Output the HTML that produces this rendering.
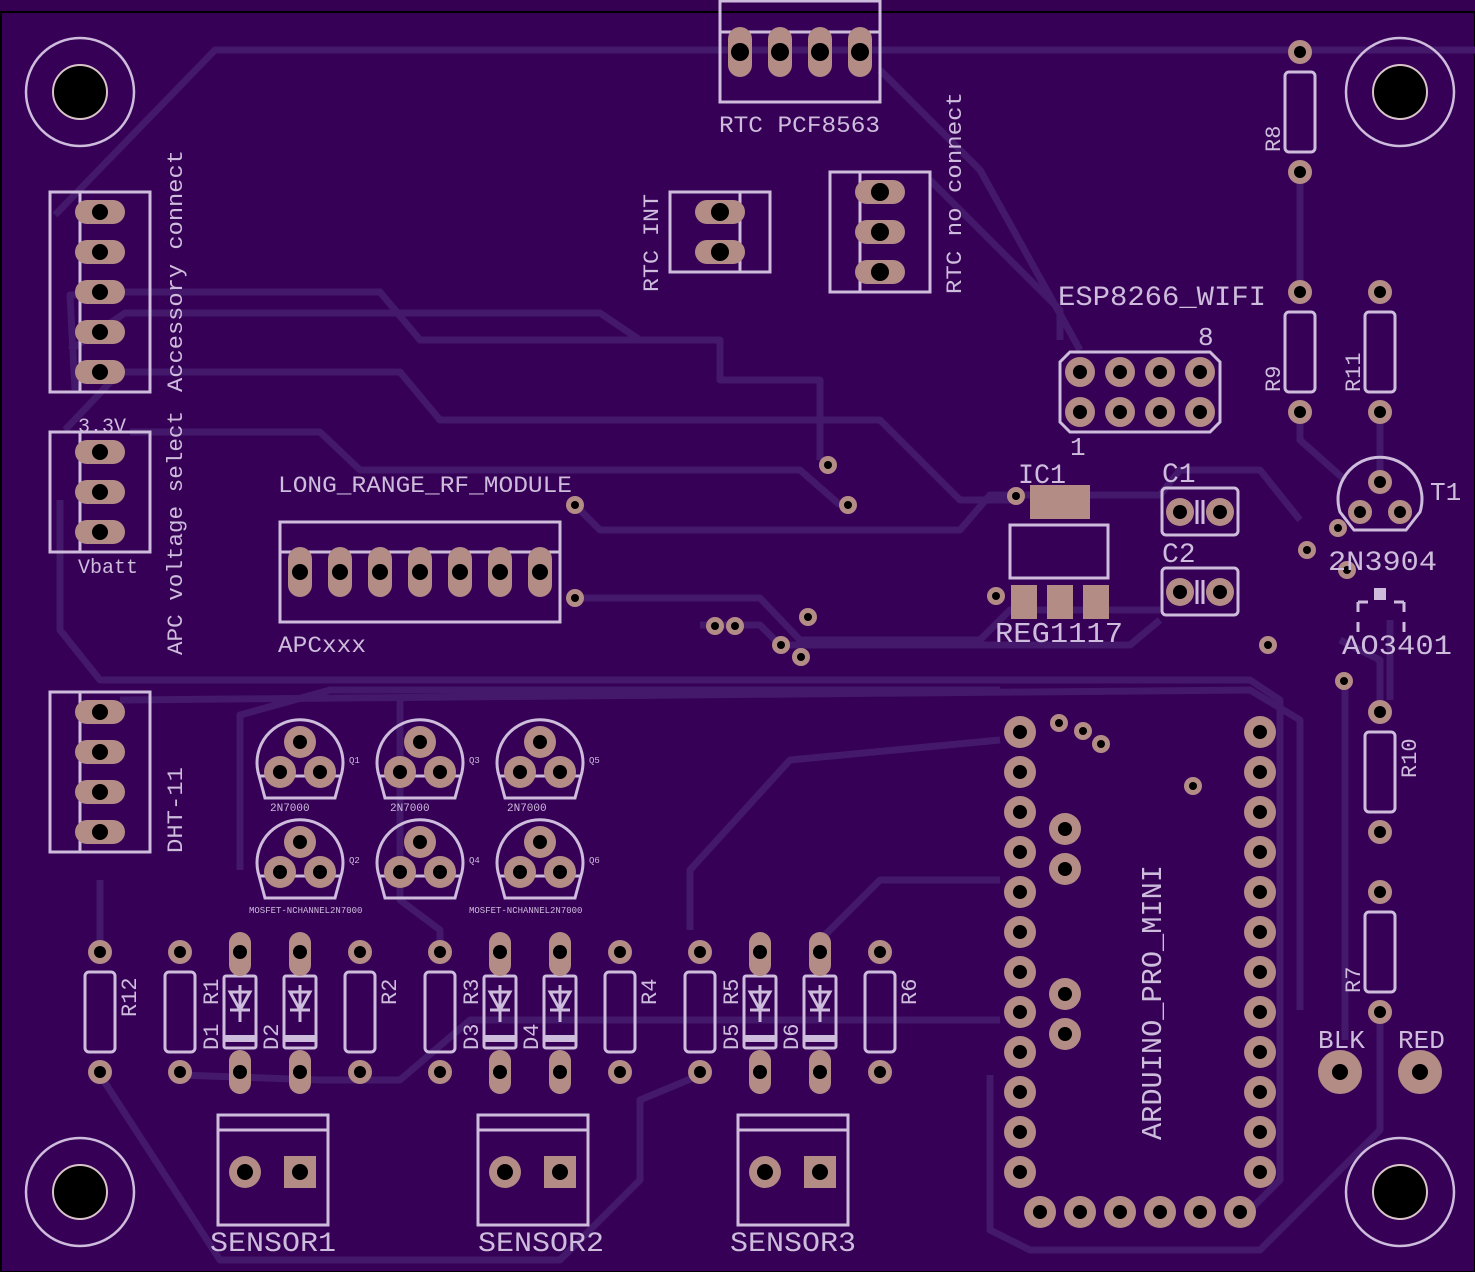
<!DOCTYPE html>
<html><head><meta charset="utf-8"><style>
html,body{margin:0;padding:0;background:#350052}
svg{display:block}
text{font-family:"Liberation Mono",monospace;fill:#cdbcdc}
</style></head><body>
<svg width="1475" height="1272" viewBox="0 0 1475 1272" xmlns="http://www.w3.org/2000/svg">
<rect width="1475" height="1272" fill="#350052"/>
<rect x="1" y="12" width="1474" height="1260" fill="#350055" stroke="#000" stroke-width="2"/>
<g fill="none" stroke="#44186a" stroke-width="7" stroke-linejoin="round">
<polyline points="55,215 215,50 1475,50"/>
<polyline points="75,390 70,295 125,292 380,292 420,340 720,340 720,380 820,380 820,460"/>
<polyline points="70,350 125,313 600,313 640,340"/>
<polyline points="65,430 120,372 400,372 440,420 880,420 960,500 1015,500"/>
<polyline points="60,500 60,630 100,680 1250,680 1280,700 1280,1180 1250,1210"/>
<polyline points="130,432 320,432 360,470 800,470 840,505"/>
<polyline points="880,70 980,170 1080,350"/>
<polyline points="930,180 1060,310 1060,340"/>
<polyline points="575,505 600,530 960,530 990,495 1160,495 1180,470 1260,470 1300,520"/>
<polyline points="575,598 760,598 800,640 980,640 1010,610 1160,610"/>
<polyline points="700,625 760,625 780,645 1130,645 1160,620"/>
<polyline points="120,700 1250,690 1300,720 1300,1010"/>
<polyline points="240,870 240,715 330,690 1000,690"/>
<polyline points="690,930 690,870 790,760 1000,740"/>
<polyline points="440,945 440,930 400,900 400,700"/>
<polyline points="820,940 880,880 1000,880"/>
<polyline points="100,880 100,945"/>
<polyline points="100,1075 220,1260 560,1260 640,1180 640,1100 700,1075"/>
<polyline points="180,1075 320,1080 400,1080 470,1020 1000,1020"/>
<polyline points="990,1075 990,1230 1030,1250 1260,1250 1380,1130 1380,1015"/>
<polyline points="1300,170 1300,290"/>
<polyline points="1380,410 1380,475"/>
<polyline points="1345,680 1345,1040"/>
<polyline points="1300,410 1300,440 1345,480"/>
<polyline points="1390,620 1390,700"/>
<polyline points="1340,640 1380,660 1380,710"/>
</g>
<g stroke="#cdbcdc" stroke-width="2.5" fill="none">
<circle cx="80" cy="92" r="54"/><circle cx="1400" cy="92" r="54"/>
<circle cx="80" cy="1192" r="54"/><circle cx="1400" cy="1192" r="54"/>
</g>
<g fill="#000" stroke="#d8c4c8" stroke-width="2">
<circle cx="80" cy="92" r="27"/><circle cx="1400" cy="92" r="27"/>
<circle cx="80" cy="1192" r="27"/><circle cx="1400" cy="1192" r="27"/>
</g>
<g stroke="#cdbcdc" stroke-width="3" fill="none">
<rect x="720" y="1" width="160" height="101"/><line x1="720" y1="32" x2="880" y2="32"/>
<rect x="670" y="192" width="100" height="80"/><line x1="740" y1="192" x2="740" y2="272"/>
<rect x="830" y="172" width="100" height="120"/><line x1="860" y1="172" x2="860" y2="292"/>
<rect x="50" y="192" width="100" height="200"/><line x1="80" y1="192" x2="80" y2="392"/>
<rect x="50" y="432" width="100" height="120"/><line x1="80" y1="432" x2="80" y2="552"/>
<rect x="50" y="692" width="100" height="160"/><line x1="80" y1="692" x2="80" y2="852"/>
<rect x="280" y="522" width="280" height="100"/><line x1="280" y1="552" x2="560" y2="552"/>
<polygon points="1070,352 1210,352 1220,362 1220,422 1210,432 1070,432 1060,422 1060,362"/>
<rect x="1010" y="525" width="98" height="53"/>
<rect x="1162" y="488" width="76" height="47" rx="4"/>
<rect x="1162" y="568" width="76" height="47" rx="4"/>
<line x1="1197" y1="500" x2="1197" y2="524"/><line x1="1203" y1="500" x2="1203" y2="524"/>
<line x1="1197" y1="580" x2="1197" y2="604"/><line x1="1203" y1="580" x2="1203" y2="604"/>
<rect x="218" y="1115" width="110" height="110"/><line x1="218" y1="1130" x2="328" y2="1130"/>
<rect x="478" y="1115" width="110" height="110"/><line x1="478" y1="1130" x2="588" y2="1130"/>
<rect x="738" y="1115" width="110" height="110"/><line x1="738" y1="1130" x2="848" y2="1130"/>
<path d="M1340,512 A42,42 0 1 1 1420,512 L1406,530 L1354,530 Z"/>
<path d="M1358,602 V612 M1358,602 H1368 M1404,602 V612 M1404,602 H1394 M1358,622 V632 M1404,622 V632"/>
<path d="M265,798 L258,772 A43,43 0 1 1 342,772 L335,798 Z"/>
<path d="M385,798 L378,772 A43,43 0 1 1 462,772 L455,798 Z"/>
<path d="M505,798 L498,772 A43,43 0 1 1 582,772 L575,798 Z"/>
<path d="M265,898 L258,872 A43,43 0 1 1 342,872 L335,898 Z"/>
<path d="M385,898 L378,872 A43,43 0 1 1 462,872 L455,898 Z"/>
<path d="M505,898 L498,872 A43,43 0 1 1 582,872 L575,898 Z"/>
<line x1="258" y1="776" x2="342" y2="776"/><line x1="378" y1="776" x2="462" y2="776"/><line x1="498" y1="776" x2="582" y2="776"/>
<line x1="258" y1="876" x2="342" y2="876"/><line x1="378" y1="876" x2="462" y2="876"/><line x1="498" y1="876" x2="582" y2="876"/>
<rect x="1285" y="72" width="30" height="80" rx="4"/>
<rect x="1285" y="312" width="30" height="80" rx="4"/>
<rect x="1365" y="312" width="30" height="80" rx="4"/>
<rect x="1365" y="732" width="30" height="80" rx="4"/>
<rect x="1365" y="912" width="30" height="80" rx="4"/>
<rect x="85" y="972" width="30" height="80" rx="4"/>
<rect x="165" y="972" width="30" height="80" rx="4"/>
<rect x="345" y="972" width="30" height="80" rx="4"/>
<rect x="425" y="972" width="30" height="80" rx="4"/>
<rect x="605" y="972" width="30" height="80" rx="4"/>
<rect x="685" y="972" width="30" height="80" rx="4"/>
<rect x="865" y="972" width="30" height="80" rx="4"/>
<g id="d"><rect x="224" y="976" width="32" height="72" rx="2"/><path d="M230,992 H250 L240,1010 Z M230,1010 H250 M240,985 V1022"/></g>
<use href="#d" x="60"/><use href="#d" x="260"/><use href="#d" x="320"/><use href="#d" x="520"/><use href="#d" x="580"/>
</g>
<g fill="#cdbcdc">
<rect x="224" y="1035" width="32" height="7"/><rect x="284" y="1035" width="32" height="7"/><rect x="484" y="1035" width="32" height="7"/>
<rect x="544" y="1035" width="32" height="7"/><rect x="744" y="1035" width="32" height="7"/><rect x="804" y="1035" width="32" height="7"/>
<rect x="1374" y="588" width="12" height="12"/>
</g>
<g fill="#b48c86">
<rect x="728" y="27" width="24" height="50" rx="12"/><rect x="768" y="27" width="24" height="50" rx="12"/><rect x="808" y="27" width="24" height="50" rx="12"/><rect x="848" y="27" width="24" height="50" rx="12"/>
<rect x="695" y="200" width="50" height="24" rx="12"/><rect x="695" y="240" width="50" height="24" rx="12"/>
<rect x="855" y="180" width="50" height="24" rx="12"/><rect x="855" y="220" width="50" height="24" rx="12"/><rect x="855" y="260" width="50" height="24" rx="12"/>
<rect x="75" y="200" width="50" height="24" rx="12"/><rect x="75" y="240" width="50" height="24" rx="12"/><rect x="75" y="280" width="50" height="24" rx="12"/><rect x="75" y="320" width="50" height="24" rx="12"/><rect x="75" y="360" width="50" height="24" rx="12"/>
<rect x="75" y="440" width="50" height="24" rx="12"/><rect x="75" y="480" width="50" height="24" rx="12"/><rect x="75" y="520" width="50" height="24" rx="12"/>
<rect x="75" y="700" width="50" height="24" rx="12"/><rect x="75" y="740" width="50" height="24" rx="12"/><rect x="75" y="780" width="50" height="24" rx="12"/><rect x="75" y="820" width="50" height="24" rx="12"/>
<rect x="288" y="547" width="24" height="50" rx="12"/><rect x="328" y="547" width="24" height="50" rx="12"/><rect x="368" y="547" width="24" height="50" rx="12"/><rect x="408" y="547" width="24" height="50" rx="12"/><rect x="448" y="547" width="24" height="50" rx="12"/><rect x="488" y="547" width="24" height="50" rx="12"/><rect x="528" y="547" width="24" height="50" rx="12"/>
<rect x="229" y="932" width="22" height="44" rx="11"/><rect x="229" y="1050" width="22" height="44" rx="11"/>
<rect x="289" y="932" width="22" height="44" rx="11"/><rect x="289" y="1050" width="22" height="44" rx="11"/>
<rect x="489" y="932" width="22" height="44" rx="11"/><rect x="489" y="1050" width="22" height="44" rx="11"/>
<rect x="549" y="932" width="22" height="44" rx="11"/><rect x="549" y="1050" width="22" height="44" rx="11"/>
<rect x="749" y="932" width="22" height="44" rx="11"/><rect x="749" y="1050" width="22" height="44" rx="11"/>
<rect x="809" y="932" width="22" height="44" rx="11"/><rect x="809" y="1050" width="22" height="44" rx="11"/>
<rect x="1030" y="485" width="60" height="34"/>
<rect x="1011" y="585" width="26" height="34"/><rect x="1047" y="585" width="26" height="34"/><rect x="1083" y="585" width="26" height="34"/>
<rect x="284" y="1156" width="32" height="32"/><rect x="544" y="1156" width="32" height="32"/><rect x="804" y="1156" width="32" height="32"/>
<circle cx="245" cy="1172" r="16"/><circle cx="505" cy="1172" r="16"/><circle cx="765" cy="1172" r="16"/>
<circle cx="300" cy="742" r="16"/><circle cx="280" cy="772" r="16"/><circle cx="320" cy="772" r="16"/>
<circle cx="420" cy="742" r="16"/><circle cx="400" cy="772" r="16"/><circle cx="440" cy="772" r="16"/>
<circle cx="540" cy="742" r="16"/><circle cx="520" cy="772" r="16"/><circle cx="560" cy="772" r="16"/>
<circle cx="300" cy="842" r="16"/><circle cx="280" cy="872" r="16"/><circle cx="320" cy="872" r="16"/>
<circle cx="420" cy="842" r="16"/><circle cx="400" cy="872" r="16"/><circle cx="440" cy="872" r="16"/>
<circle cx="540" cy="842" r="16"/><circle cx="520" cy="872" r="16"/><circle cx="560" cy="872" r="16"/>
<circle cx="1080" cy="372" r="15"/><circle cx="1120" cy="372" r="15"/><circle cx="1160" cy="372" r="15"/><circle cx="1200" cy="372" r="15"/>
<circle cx="1080" cy="412" r="15"/><circle cx="1120" cy="412" r="15"/><circle cx="1160" cy="412" r="15"/><circle cx="1200" cy="412" r="15"/>
<circle cx="1180" cy="512" r="14"/><circle cx="1220" cy="512" r="14"/><circle cx="1180" cy="592" r="14"/><circle cx="1220" cy="592" r="14"/>
<circle cx="1380" cy="482" r="12"/><circle cx="1360" cy="512" r="12"/><circle cx="1400" cy="512" r="12"/>
<circle cx="1340" cy="1072" r="22"/><circle cx="1420" cy="1072" r="22"/>
<g id="col"><circle cx="1020" cy="732" r="16"/><circle cx="1020" cy="772" r="16"/><circle cx="1020" cy="812" r="16"/><circle cx="1020" cy="852" r="16"/><circle cx="1020" cy="892" r="16"/><circle cx="1020" cy="932" r="16"/><circle cx="1020" cy="972" r="16"/><circle cx="1020" cy="1012" r="16"/><circle cx="1020" cy="1052" r="16"/><circle cx="1020" cy="1092" r="16"/><circle cx="1020" cy="1132" r="16"/><circle cx="1020" cy="1172" r="16"/></g>
<use href="#col" x="240"/>
<circle cx="1040" cy="1212" r="16"/><circle cx="1080" cy="1212" r="16"/><circle cx="1120" cy="1212" r="16"/><circle cx="1160" cy="1212" r="16"/><circle cx="1200" cy="1212" r="16"/><circle cx="1240" cy="1212" r="16"/>
<circle cx="1065" cy="829" r="16"/><circle cx="1065" cy="869" r="16"/><circle cx="1065" cy="994" r="16"/><circle cx="1065" cy="1034" r="16"/>
<g id="rp"><circle cx="100" cy="952" r="12"/><circle cx="100" cy="1072" r="12"/></g>
<use href="#rp" x="80"/><use href="#rp" x="260"/><use href="#rp" x="340"/><use href="#rp" x="520"/><use href="#rp" x="600"/><use href="#rp" x="780"/>
<use href="#rp" x="1200" y="-900"/><use href="#rp" x="1200" y="-660"/><use href="#rp" x="1280" y="-660"/><use href="#rp" x="1280" y="-240"/><use href="#rp" x="1280" y="-60"/>
<circle cx="575" cy="505" r="9"/><circle cx="575" cy="598" r="9"/><circle cx="828" cy="465" r="9"/><circle cx="848" cy="505" r="9"/>
<circle cx="715" cy="626" r="9"/><circle cx="735" cy="626" r="9"/><circle cx="808" cy="617" r="9"/><circle cx="781" cy="645" r="9"/><circle cx="801" cy="657" r="9"/>
<circle cx="1016" cy="496" r="9"/><circle cx="996" cy="596" r="9"/><circle cx="1268" cy="645" r="9"/><circle cx="1307" cy="550" r="9"/><circle cx="1338" cy="528" r="9"/><circle cx="1347" cy="570" r="9"/><circle cx="1344" cy="681" r="9"/>
<circle cx="1059" cy="723" r="9"/><circle cx="1083" cy="731" r="9"/><circle cx="1101" cy="744" r="9"/><circle cx="1193" cy="786" r="9"/>
</g>
<g fill="#000">
<circle cx="740" cy="52" r="9"/><circle cx="780" cy="52" r="9"/><circle cx="820" cy="52" r="9"/><circle cx="860" cy="52" r="9"/>
<circle cx="720" cy="212" r="9"/><circle cx="720" cy="252" r="9"/><circle cx="880" cy="192" r="9"/><circle cx="880" cy="232" r="9"/><circle cx="880" cy="272" r="9"/>
<circle cx="100" cy="212" r="8"/><circle cx="100" cy="252" r="8"/><circle cx="100" cy="292" r="8"/><circle cx="100" cy="332" r="8"/><circle cx="100" cy="372" r="8"/>
<circle cx="100" cy="452" r="8"/><circle cx="100" cy="492" r="8"/><circle cx="100" cy="532" r="8"/>
<circle cx="100" cy="712" r="8"/><circle cx="100" cy="752" r="8"/><circle cx="100" cy="792" r="8"/><circle cx="100" cy="832" r="8"/>
<circle cx="300" cy="572" r="8"/><circle cx="340" cy="572" r="8"/><circle cx="380" cy="572" r="8"/><circle cx="420" cy="572" r="8"/><circle cx="460" cy="572" r="8"/><circle cx="500" cy="572" r="8"/><circle cx="540" cy="572" r="8"/>
<circle cx="240" cy="952" r="7"/><circle cx="240" cy="1072" r="7"/><circle cx="300" cy="952" r="7"/><circle cx="300" cy="1072" r="7"/>
<circle cx="500" cy="952" r="7"/><circle cx="500" cy="1072" r="7"/><circle cx="560" cy="952" r="7"/><circle cx="560" cy="1072" r="7"/>
<circle cx="760" cy="952" r="7"/><circle cx="760" cy="1072" r="7"/><circle cx="820" cy="952" r="7"/><circle cx="820" cy="1072" r="7"/>
<circle cx="245" cy="1172" r="8"/><circle cx="300" cy="1172" r="8"/><circle cx="505" cy="1172" r="8"/><circle cx="560" cy="1172" r="8"/><circle cx="765" cy="1172" r="8"/><circle cx="820" cy="1172" r="8"/>
<circle cx="300" cy="742" r="7"/><circle cx="280" cy="772" r="7"/><circle cx="320" cy="772" r="7"/>
<circle cx="420" cy="742" r="7"/><circle cx="400" cy="772" r="7"/><circle cx="440" cy="772" r="7"/>
<circle cx="540" cy="742" r="7"/><circle cx="520" cy="772" r="7"/><circle cx="560" cy="772" r="7"/>
<circle cx="300" cy="842" r="7"/><circle cx="280" cy="872" r="7"/><circle cx="320" cy="872" r="7"/>
<circle cx="420" cy="842" r="7"/><circle cx="400" cy="872" r="7"/><circle cx="440" cy="872" r="7"/>
<circle cx="540" cy="842" r="7"/><circle cx="520" cy="872" r="7"/><circle cx="560" cy="872" r="7"/>
<circle cx="1080" cy="372" r="7"/><circle cx="1120" cy="372" r="7"/><circle cx="1160" cy="372" r="7"/><circle cx="1200" cy="372" r="7"/>
<circle cx="1080" cy="412" r="7"/><circle cx="1120" cy="412" r="7"/><circle cx="1160" cy="412" r="7"/><circle cx="1200" cy="412" r="7"/>
<circle cx="1180" cy="512" r="7"/><circle cx="1220" cy="512" r="7"/><circle cx="1180" cy="592" r="7"/><circle cx="1220" cy="592" r="7"/>
<circle cx="1380" cy="482" r="6"/><circle cx="1360" cy="512" r="6"/><circle cx="1400" cy="512" r="6"/>
<circle cx="1340" cy="1072" r="8"/><circle cx="1420" cy="1072" r="8"/>
<g id="colh"><circle cx="1020" cy="732" r="7"/><circle cx="1020" cy="772" r="7"/><circle cx="1020" cy="812" r="7"/><circle cx="1020" cy="852" r="7"/><circle cx="1020" cy="892" r="7"/><circle cx="1020" cy="932" r="7"/><circle cx="1020" cy="972" r="7"/><circle cx="1020" cy="1012" r="7"/><circle cx="1020" cy="1052" r="7"/><circle cx="1020" cy="1092" r="7"/><circle cx="1020" cy="1132" r="7"/><circle cx="1020" cy="1172" r="7"/></g>
<use href="#colh" x="240"/>
<circle cx="1040" cy="1212" r="7"/><circle cx="1080" cy="1212" r="7"/><circle cx="1120" cy="1212" r="7"/><circle cx="1160" cy="1212" r="7"/><circle cx="1200" cy="1212" r="7"/><circle cx="1240" cy="1212" r="7"/>
<circle cx="1065" cy="829" r="7"/><circle cx="1065" cy="869" r="7"/><circle cx="1065" cy="994" r="7"/><circle cx="1065" cy="1034" r="7"/>
<g id="rh"><circle cx="100" cy="952" r="6"/><circle cx="100" cy="1072" r="6"/></g>
<use href="#rh" x="80"/><use href="#rh" x="260"/><use href="#rh" x="340"/><use href="#rh" x="520"/><use href="#rh" x="600"/><use href="#rh" x="780"/>
<use href="#rh" x="1200" y="-900"/><use href="#rh" x="1200" y="-660"/><use href="#rh" x="1280" y="-660"/><use href="#rh" x="1280" y="-240"/><use href="#rh" x="1280" y="-60"/>
<circle cx="575" cy="505" r="4"/><circle cx="575" cy="598" r="4"/><circle cx="828" cy="465" r="4"/><circle cx="848" cy="505" r="4"/>
<circle cx="715" cy="626" r="4"/><circle cx="735" cy="626" r="4"/><circle cx="808" cy="617" r="4"/><circle cx="781" cy="645" r="4"/><circle cx="801" cy="657" r="4"/>
<circle cx="1016" cy="496" r="4"/><circle cx="996" cy="596" r="4"/><circle cx="1268" cy="645" r="4"/><circle cx="1307" cy="550" r="4"/><circle cx="1338" cy="528" r="4"/><circle cx="1347" cy="570" r="4"/><circle cx="1344" cy="681" r="4"/>
<circle cx="1059" cy="723" r="4"/><circle cx="1083" cy="731" r="4"/><circle cx="1101" cy="744" r="4"/><circle cx="1193" cy="786" r="4"/>
</g>
<g font-size="23">
<text x="719" y="132" textLength="161" lengthAdjust="spacingAndGlyphs">RTC PCF8563</text>
<text x="1058" y="305" font-size="28" textLength="208" lengthAdjust="spacingAndGlyphs">ESP8266_WIFI</text>
<text x="1198" y="345" font-size="26">8</text>
<text x="1070" y="455" font-size="26">1</text>
<text x="278" y="492" textLength="294" lengthAdjust="spacingAndGlyphs">LONG_RANGE_RF_MODULE</text>
<text x="278" y="652" textLength="88" lengthAdjust="spacingAndGlyphs">APCxxx</text>
<text x="1018" y="483" font-size="28" textLength="48" lengthAdjust="spacingAndGlyphs">IC1</text>
<text x="995" y="642" font-size="29" textLength="128" lengthAdjust="spacingAndGlyphs">REG1117</text>
<text x="1162" y="482" font-size="28">C1</text>
<text x="1162" y="562" font-size="28">C2</text>
<text x="1430" y="500" font-size="26">T1</text>
<text x="1328" y="570" font-size="28" textLength="109" lengthAdjust="spacingAndGlyphs">2N3904</text>
<text x="1342" y="654" font-size="28" textLength="110" lengthAdjust="spacingAndGlyphs">AO3401</text>
<text x="1318" y="1048" font-size="26">BLK</text>
<text x="1398" y="1048" font-size="26">RED</text>
<text x="210" y="1251" font-size="28" textLength="126" lengthAdjust="spacingAndGlyphs">SENSOR1</text>
<text x="478" y="1251" font-size="28" textLength="126" lengthAdjust="spacingAndGlyphs">SENSOR2</text>
<text x="730" y="1251" font-size="28" textLength="126" lengthAdjust="spacingAndGlyphs">SENSOR3</text>
<text x="78" y="432" font-size="20">3.3V</text>
<text x="78" y="573" font-size="20">Vbatt</text>
</g>
<g font-size="11">
<text x="270" y="811">2N7000</text><text x="390" y="811">2N7000</text><text x="507" y="811">2N7000</text>
<text x="349" y="763" font-size="9">Q1</text><text x="469" y="763" font-size="9">Q3</text><text x="589" y="763" font-size="9">Q5</text>
<text x="349" y="863" font-size="9">Q2</text><text x="469" y="863" font-size="9">Q4</text><text x="589" y="863" font-size="9">Q6</text>
<text x="249" y="913" font-size="9">MOSFET-NCHANNEL2N7000</text><text x="469" y="913" font-size="9">MOSFET-NCHANNEL2N7000</text>
</g>
<g font-size="22">
<text transform="translate(658,292) rotate(-90)" textLength="98" lengthAdjust="spacingAndGlyphs">RTC INT</text>
<text transform="translate(961,294) rotate(-90)" textLength="202" lengthAdjust="spacingAndGlyphs">RTC no connect</text>
<text transform="translate(182,392) rotate(-90)" textLength="242" lengthAdjust="spacingAndGlyphs">Accessory connect</text>
<text transform="translate(182,655) rotate(-90)" textLength="244" lengthAdjust="spacingAndGlyphs">APC voltage select</text>
<text transform="translate(182,853) rotate(-90)" textLength="86" lengthAdjust="spacingAndGlyphs">DHT-11</text>
<text transform="translate(1161,1140) rotate(-90)" font-size="29" textLength="275" lengthAdjust="spacingAndGlyphs">ARDUINO_PRO_MINI</text>
<text transform="translate(1280,152) rotate(-90)">R8</text>
<text transform="translate(1280,392) rotate(-90)">R9</text>
<text transform="translate(1360,392) rotate(-90)">R11</text>
<text transform="translate(1416,778) rotate(-90)">R10</text>
<text transform="translate(1360,993) rotate(-90)">R7</text>
<text transform="translate(136,1017) rotate(-90)">R12</text>
<text transform="translate(218,1005) rotate(-90)">R1</text>
<text transform="translate(396,1005) rotate(-90)">R2</text>
<text transform="translate(478,1005) rotate(-90)">R3</text>
<text transform="translate(656,1005) rotate(-90)">R4</text>
<text transform="translate(738,1005) rotate(-90)">R5</text>
<text transform="translate(916,1005) rotate(-90)">R6</text>
<text transform="translate(218,1050) rotate(-90)">D1</text>
<text transform="translate(278,1050) rotate(-90)">D2</text>
<text transform="translate(478,1050) rotate(-90)">D3</text>
<text transform="translate(538,1050) rotate(-90)">D4</text>
<text transform="translate(738,1050) rotate(-90)">D5</text>
<text transform="translate(798,1050) rotate(-90)">D6</text>
</g>
</svg>
</body></html>
